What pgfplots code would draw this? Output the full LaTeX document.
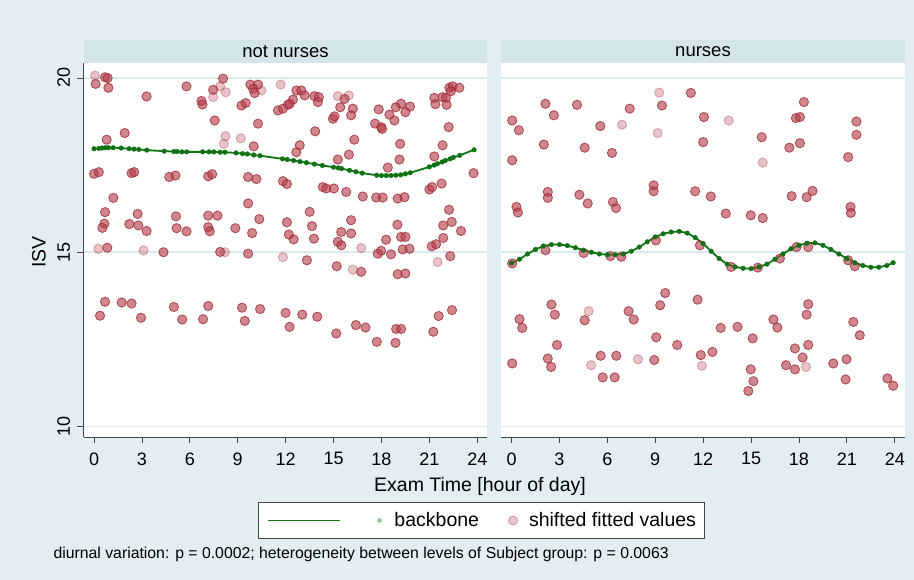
\documentclass[border=0pt]{standalone}
\usepackage{fontspec}
\setmainfont{Liberation Sans}
\usepackage{pgfplots}
\usepackage{pgfplotstable}
\pgfplotsset{compat=1.18}
\definecolor{bgc}{RGB}{226,238,241}
\definecolor{hdr}{RGB}{212,229,234}
\definecolor{grd}{RGB}{220,233,237}
\definecolor{ptfill}{RGB}{182,62,74}
\definecolor{ptdraw}{RGB}{160,45,57}
\definecolor{bbgreen}{RGB}{15,115,20}
\definecolor{axc}{RGB}{70,70,70}

% left panel: not nurses
\pgfplotstableread{
h y
0.10 19.83
0.69 20.02
0.85 20.00
0.90 19.72
3.29 19.47
5.79 19.76
8.08 19.98
7.46 19.66
6.73 19.34
6.79 19.24
9.79 19.81
10.27 19.81
9.96 19.69
10.06 19.57
9.50 19.28
9.23 19.21
11.52 19.07
11.83 19.12
12.15 19.23
7.56 18.78
10.27 18.69
1.92 18.42
0.79 18.23
10.00 18.04
0.00 17.25
0.30 17.30
2.35 17.27
2.52 17.30
4.71 17.16
5.10 17.20
7.15 17.18
7.40 17.24
9.65 17.16
10.17 17.10
11.83 17.04
12.08 16.96
1.21 16.56
0.69 16.15
0.65 15.82
0.52 15.70
2.73 16.10
2.21 15.81
2.77 15.77
3.29 15.61
5.13 16.03
5.17 15.69
5.79 15.60
7.15 16.05
7.73 16.05
7.15 15.72
7.25 15.60
8.85 15.69
9.65 16.40
9.90 15.55
10.35 15.95
12.08 15.86
12.20 15.51
0.83 15.13
4.35 15.00
7.90 15.01
9.65 14.96
0.375 13.18
0.69 13.58
1.73 13.56
2.35 13.53
2.94 13.12
5.00 13.43
5.52 13.07
6.83 13.08
7.15 13.46
9.27 13.41
9.44 13.03
10.40 13.37
12.00 13.26
12.25 12.86
12.67 19.64
12.98 19.64
13.19 19.50
12.46 19.38
12.25 19.26
13.80 19.48
14.08 19.45
14.02 19.31
15.69 19.40
15.42 19.16
16.21 19.12
14.96 18.83
15.06 18.90
16.10 18.93
17.83 19.10
18.90 19.16
19.23 19.26
19.50 19.02
19.79 19.18
18.50 18.95
18.81 18.78
17.60 18.69
17.98 18.59
18.04 18.54
21.31 19.43
21.83 19.45
22.04 19.43
22.25 19.72
22.46 19.76
22.88 19.72
22.35 19.62
21.38 19.25
22.08 19.23
22.21 18.59
13.85 18.47
16.30 18.23
12.88 18.07
12.67 17.87
15.96 17.80
15.27 17.66
19.17 18.11
19.13 17.66
18.40 17.43
21.83 18.07
21.31 17.75
23.77 17.27
14.33 16.87
14.54 16.83
15.02 16.83
15.79 16.73
16.83 16.60
17.67 16.57
18.08 16.57
19.02 16.54
19.44 16.58
21.00 16.80
21.17 16.87
21.77 16.97
13.50 16.16
13.65 15.75
12.50 15.37
13.77 15.39
16.10 15.92
15.48 15.58
16.10 15.54
15.27 15.30
15.48 15.20
19.00 15.79
19.23 15.44
19.50 15.44
18.29 15.36
19.33 15.08
19.75 15.10
18.60 14.94
17.98 15.04
17.77 14.96
22.23 16.22
21.87 15.77
22.40 15.87
22.98 15.61
21.87 15.41
21.15 15.17
21.42 15.23
22.31 14.89
13.33 14.77
15.20 14.60
16.73 14.44
19.02 14.37
19.50 14.39
13.04 13.21
13.98 13.15
15.17 12.67
16.40 12.91
17.00 12.84
17.71 12.43
18.92 12.80
19.23 12.80
18.88 12.40
21.25 12.72
21.58 13.17
22.42 13.34
}\leftpts

\pgfplotstableread{
h y
0.06 20.07
7.90 19.76
8.25 19.59
7.46 19.45
10.48 19.64
11.69 19.81
8.23 18.33
8.13 18.11
9.19 18.27
0.27 15.10
3.10 15.05
8.20 15.00
11.83 14.86
15.27 19.48
15.96 19.50
16.73 15.12
16.21 14.50
21.52 14.72
}\leftlight

\pgfplotstableread{
h y
0.0 17.97
0.3 17.98
0.5 17.99
0.7 18.00
0.9 18.00
1.2 18.00
1.7 17.99
2.2 17.97
2.5 17.96
2.8 17.95
3.3 17.93
4.4 17.90
5.0 17.89
5.2 17.89
5.5 17.88
5.8 17.88
6.8 17.88
7.2 17.88
7.5 17.88
7.9 17.87
8.2 17.87
8.9 17.85
9.3 17.83
9.6 17.82
10.0 17.79
10.4 17.77
11.8 17.68
12.1 17.66
12.5 17.63
12.9 17.60
13.3 17.57
13.8 17.53
14.3 17.49
15.0 17.44
15.3 17.42
15.5 17.40
16.0 17.35
16.4 17.31
16.8 17.27
17.7 17.21
18.0 17.20
18.3 17.20
18.6 17.20
18.9 17.21
19.2 17.22
19.5 17.25
19.8 17.28
21.0 17.45
21.3 17.50
21.5 17.54
21.8 17.59
22.0 17.63
22.3 17.68
22.5 17.72
22.9 17.78
23.8 17.94
}\leftbb

% right panel: nurses
\pgfplotstableread{
h y
0.04 18.78
0.46 18.50
0.04 17.64
2.125 19.26
2.65 18.93
2.02 18.09
4.10 19.23
4.58 18.00
5.56 18.62
7.40 19.12
6.29 17.85
9.42 19.21
11.23 19.57
12.05 18.88
12.00 18.16
0.31 16.30
0.40 16.14
2.27 16.73
2.27 16.56
4.25 16.65
4.77 16.40
6.35 16.44
6.54 16.27
8.90 16.92
8.90 16.75
11.50 16.75
2.125 15.06
4.52 14.98
6.19 14.89
6.875 14.87
9.04 15.34
11.80 15.20
0.04 14.68
15.67 18.30
18.31 19.31
17.81 18.85
18.06 18.88
18.06 18.13
17.40 18.00
21.60 18.75
21.60 18.37
21.08 17.73
12.48 16.60
13.42 16.11
14.98 16.06
15.73 15.98
17.54 16.61
18.48 16.58
18.85 16.76
21.23 16.30
21.25 16.13
17.85 15.15
18.58 15.15
0.50 13.08
0.67 12.83
0.04 11.81
2.50 13.50
2.71 13.21
2.85 12.34
2.27 11.95
2.48 11.71
4.58 13.05
5.58 12.03
5.71 11.41
6.46 11.41
6.56 12.03
7.33 13.31
7.65 13.07
8.94 11.91
9.06 12.56
9.31 13.48
9.625 13.83
10.375 12.34
11.65 13.64
11.85 12.05
13.75 14.58
15.42 14.56
16.81 14.82
21.08 14.77
21.50 14.60
12.58 12.14
13.10 12.83
14.15 12.86
15.10 12.53
14.98 11.64
15.15 11.30
14.83 11.02
16.40 13.07
16.65 12.84
17.19 11.76
17.75 12.24
17.75 11.64
18.23 11.98
18.58 12.34
18.48 13.21
18.58 13.51
20.15 11.81
20.98 11.93
20.92 11.35
21.40 13.00
21.81 12.62
23.54 11.38
23.90 11.17
}\rightpts

\pgfplotstableread{
h y
6.92 18.66
9.25 19.58
9.15 18.42
13.60 18.78
15.73 17.57
4.83 13.31
4.98 11.76
7.92 11.93
11.92 11.74
18.44 11.71
}\rightlight

\pgfplotstableread{
h y
0.0 14.69
0.5 14.80
1.0 14.95
1.5 15.08
2.0 15.18
2.5 15.22
3.0 15.22
3.5 15.19
4.0 15.13
4.5 15.06
5.0 15.00
5.5 14.95
6.0 14.93
6.5 14.93
7.0 14.95
7.5 15.03
8.0 15.15
8.5 15.30
9.0 15.44
9.5 15.53
10.0 15.58
10.5 15.60
11.0 15.55
11.5 15.42
12.0 15.25
12.5 15.03
13.0 14.82
13.5 14.66
14.0 14.58
14.5 14.54
15.0 14.53
15.5 14.58
16.0 14.66
16.5 14.80
17.0 14.95
17.5 15.10
18.0 15.20
18.5 15.26
19.0 15.27
19.5 15.20
20.0 15.08
20.5 14.95
21.0 14.82
21.5 14.70
22.0 14.62
22.5 14.57
23.0 14.57
23.5 14.62
23.9 14.70
}\rightbb

\pgfplotsset{
  panel/.style={
    scale only axis, width=403.5pt, height=374pt,
    anchor=south west,
    xmin=-0.66, xmax=24.61, ymin=9.70, ymax=20.43,
    axis background/.style={fill=white},
    xtick={0,3,...,24}, ytick={10,15,20},
    ymajorgrids, grid style={grd, line width=1.6pt},
    tick align=outside, major tick length=6pt,
    tick style={axc, line width=0.8pt},
    axis line style={axc, line width=0.8pt},
    axis lines*=left,
    /pgf/number format/assume math mode=true,
    ticklabel style={font=\fontsize{18}{20}\selectfont},
    xticklabel style={yshift=-6pt},
    yticklabel style={xshift=-4pt, rotate=90, anchor=south},
  },
  pts/.style={only marks, mark=*, mark size=4.6pt,
    mark options={fill=ptfill, draw=ptdraw, fill opacity=0.62, draw opacity=0.78, line width=0.9pt}},
  ptslight/.style={only marks, mark=*, mark size=4.6pt,
    mark options={fill=ptfill, draw=ptdraw, fill opacity=0.3, draw opacity=0.35, line width=0.9pt}},
  bbline/.style={bbgreen, line width=1.8pt, no marks},
  bbdots/.style={only marks, mark=*, mark size=2.3pt, mark options={fill=bbgreen, draw=bbgreen}},
}

\begin{document}
\begin{tikzpicture}[x=1pt,y=1pt]
\fill[bgc] (0pt,0pt) rectangle (914pt,580pt);
\fill[hdr] (84pt,517pt) rectangle (487pt,540pt);
\fill[hdr] (501pt,517pt) rectangle (905pt,540pt);
\node[font=\fontsize{18.5}{20}\selectfont] at (285.5pt,528pt) {not nurses};
\node[font=\fontsize{18.5}{20}\selectfont] at (703pt,528pt) {nurses};

\begin{axis}[panel, at={(83.5pt,143pt)},
  legend columns=3,
  legend style={at={(0.986,-0.2233)}, anchor=center, draw=axc, fill=white,
    line width=0.8pt, inner xsep=8pt, inner ysep=10pt,
    nodes={inner sep=0pt, font=\fontsize{19.5}{22}\selectfont},
    /tikz/every even column/.append style={column sep=0pt}},
]
\addplot[pts, forget plot] table[x=h,y=y] {\leftpts};
\addplot[ptslight, forget plot] table[x=h,y=y] {\leftlight};
\addplot[bbline, forget plot] table[x=h,y=y] {\leftbb};
\addplot[bbdots, forget plot] table[x=h,y=y] {\leftbb};
\addlegendimage{legend image code/.code={\draw[bbgreen, line width=1.8pt] (0pt,0pt) -- (72pt,0pt);}}
\addlegendentry{}
\addlegendimage{legend image code/.code={\path[draw=none,fill=none] (0pt,0pt) -- (53pt,0pt); \fill[bbgreen, opacity=0.45, draw=none] (38pt,0pt) circle (2.3pt);}}
\addlegendentry{backbone}
\addlegendimage{legend image code/.code={\path[draw=none,fill=none] (0pt,0pt) -- (50pt,0pt); \filldraw[fill=ptfill, draw=ptdraw, fill opacity=0.3, draw opacity=0.35, line width=0.9pt] (34pt,0pt) circle (4.6pt);}}
\addlegendentry{shifted fitted values}
\end{axis}

\begin{axis}[panel, at={(501pt,143pt)},
  y axis line style={draw=none}, ytick style={draw=none}, yticklabels={},
]
\addplot[pts] table[x=h,y=y] {\rightpts};
\addplot[ptslight] table[x=h,y=y] {\rightlight};
\addplot[bbline] table[x=h,y=y] {\rightbb};
\addplot[bbdots] table[x=h,y=y] {\rightbb};
\end{axis}

\node[rotate=90, font=\fontsize{19.5}{22}\selectfont] at (39pt,328pt) {ISV};
\node[font=\fontsize{19.5}{22}\selectfont] at (480pt,94pt) {Exam Time [hour of day]};
\node[anchor=west, font=\fontsize{15.8}{18}\selectfont] at (50pt,26pt) {diurnal variation: p = 0.0002; heterogeneity between levels of Subject group: p = 0.0063};
\pgfresetboundingbox
\path[use as bounding box] (0pt,0pt) rectangle (914pt,580pt);
\end{tikzpicture}
\end{document}
